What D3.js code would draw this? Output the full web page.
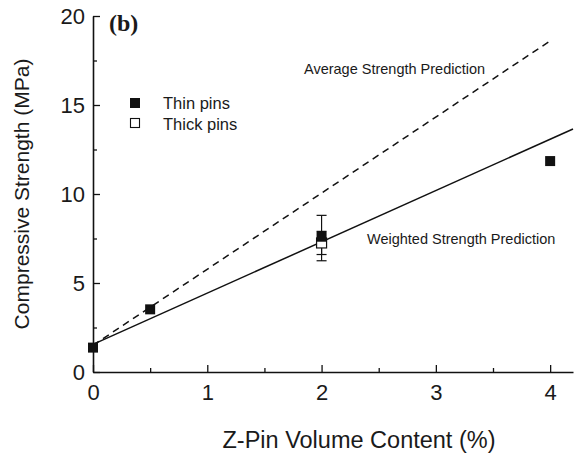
<!DOCTYPE html>
<html>
<head>
<meta charset="utf-8">
<script src="https://cdn.jsdelivr.net/npm/d3@7"></script>
<style>
  body { margin: 0; background: #fff; }
  svg { display: block; }
  text { font-family: "Liberation Sans", Arial, Helvetica, sans-serif; fill: #1a1a1a; }
</style>
</head>
<body>
<svg id="chart" width="578" height="456"></svg>
<script>
// ---- data ----
const thinX = [0, 0.5, 2, 4];
const thinY = [1.37, 3.52, 7.6, 11.85];
const thinErrLow = [null, null, 6.25, null];
const thinErrHigh = [null, null, 8.8, null];
const thickX = [2];
const thickY = [7.25];
const thickErrLow = [6.6];
const thickErrHigh = [7.9];
const weightedLineX = [0, 4.2];
const weightedLineY = [1.55, 13.65];
const averageLineX = [0, 4.0];
const averageLineY = [1.5, 18.6];
const xTicks = [0, 1, 2, 3, 4];
const xMinorTicks = [0.5, 1.5, 2.5, 3.5];
const yTicks = [0, 5, 10, 15, 20];
const yMinorTicks = [2.5, 7.5, 12.5, 17.5];
const legendLabels = ["Thin pins", "Thick pins"];
const xTitle = "Z-Pin Volume Content (%)";
const yTitle = "Compressive Strength (MPa)";
const panelLabel = "(b)";
const avgLabel = "Average Strength Prediction";
const wtdLabel = "Weighted Strength Prediction";

(function () {
// ---- layout ----
const svg = d3.select("#chart");
const mLeft = 93, mRight = 573, mTop = 16, mBottom = 372;
const x = d3.scaleLinear().domain([0, 4.2]).range([mLeft, mRight]);
const y = d3.scaleLinear().domain([0, 20]).range([mBottom, mTop]);
const ink = "#111";

// axes
const gx = svg.append("g").attr("transform", `translate(0,${mBottom})`)
  .call(d3.axisBottom(x).tickValues(xTicks).tickFormat(d3.format("d")).tickSizeInner(-7).tickSizeOuter(0).tickPadding(15));
const gxm = svg.append("g").attr("transform", `translate(0,${mBottom})`)
  .call(d3.axisBottom(x).tickValues(xMinorTicks).tickFormat("").tickSizeInner(-4).tickSizeOuter(0));
const gy = svg.append("g").attr("transform", `translate(${mLeft},0)`)
  .call(d3.axisLeft(y).tickValues(yTicks).tickFormat(d3.format("d")).tickSizeInner(-7).tickSizeOuter(0).tickPadding(8));
const gym = svg.append("g").attr("transform", `translate(${mLeft},0)`)
  .call(d3.axisLeft(y).tickValues(yMinorTicks).tickFormat("").tickSizeInner(-4).tickSizeOuter(0));
[gx, gxm, gy, gym].forEach(g => {
  g.selectAll("path.domain").attr("stroke", ink).attr("stroke-width", 1.6);
  g.selectAll(".tick line").attr("stroke", ink).attr("stroke-width", 1.3);
});
gym.select("path.domain").remove();
gxm.select("path.domain").remove();
gx.selectAll(".tick text").attr("font-size", 22).attr("fill", "#1a1a1a")
  .attr("font-family", "'Liberation Sans', Arial, sans-serif").attr("dy", "0.71em").attr("y", 12);
gy.selectAll(".tick text").attr("font-size", 22).attr("fill", "#1a1a1a")
  .attr("font-family", "'Liberation Sans', Arial, sans-serif");

// axis titles
svg.append("text").attr("x", 359).attr("y", 448).attr("text-anchor", "middle")
  .attr("font-size", 23.5).text(xTitle);
svg.append("text").attr("transform", "translate(29,194) rotate(-90)").attr("text-anchor", "middle")
  .attr("font-size", 21).text(yTitle);

// panel label
svg.append("text").attr("x", 109).attr("y", 31).attr("font-size", 24)
  .attr("font-weight", "bold").style("font-family", "'Liberation Serif', 'Times New Roman', serif").text(panelLabel);

// prediction lines
const line = d3.line().x(d => x(d[0])).y(d => y(d[1]));
svg.append("path").datum(averageLineX.map((v, i) => [v, averageLineY[i]]))
  .attr("d", line).attr("fill", "none").attr("stroke", ink).attr("stroke-width", 1.5)
  .attr("stroke-dasharray", "7,5");
svg.append("path").datum(weightedLineX.map((v, i) => [v, weightedLineY[i]]))
  .attr("d", line).attr("fill", "none").attr("stroke", ink).attr("stroke-width", 1.5);

// annotations
svg.append("text").attr("x", 304).attr("y", 74).attr("font-size", 14.5).text(avgLabel);
svg.append("text").attr("x", 367).attr("y", 244).attr("font-size", 14.5).text(wtdLabel);

// error bars
function errBars(xs, lo, hi) {
  xs.forEach((v, i) => {
    if (lo[i] == null) return;
    const cx = x(v);
    svg.append("line").attr("x1", cx).attr("x2", cx).attr("y1", y(lo[i])).attr("y2", y(hi[i]))
      .attr("stroke", ink).attr("stroke-width", 1.2);
    [lo[i], hi[i]].forEach(t => svg.append("line").attr("x1", cx - 5).attr("x2", cx + 5)
      .attr("y1", y(t)).attr("y2", y(t)).attr("stroke", ink).attr("stroke-width", 1.2));
  });
}
errBars(thinX, thinErrLow, thinErrHigh);
errBars(thickX, thickErrLow, thickErrHigh);

// markers
const ms = 10;
svg.selectAll("rect.thick").data(thickX.map((v, i) => [v, thickY[i]])).join("rect")
  .attr("class", "thick")
  .attr("x", d => x(d[0]) - ms / 2).attr("y", d => y(d[1]) - ms / 2)
  .attr("width", ms).attr("height", ms).attr("fill", "#fff").attr("stroke", ink).attr("stroke-width", 1.2);
svg.selectAll("rect.thin").data(thinX.map((v, i) => [v, thinY[i]])).join("rect")
  .attr("class", "thin")
  .attr("x", d => x(d[0]) - ms / 2).attr("y", d => y(d[1]) - ms / 2)
  .attr("width", ms).attr("height", ms).attr("fill", ink);

// legend
const lg = svg.append("g");
lg.append("rect").attr("x", 130).attr("y", 98).attr("width", 10).attr("height", 10).attr("fill", ink);
lg.append("rect").attr("x", 130.5).attr("y", 118.5).attr("width", 9).attr("height", 9)
  .attr("fill", "#fff").attr("stroke", ink).attr("stroke-width", 1.1);
lg.append("text").attr("x", 163).attr("y", 109).attr("font-size", 16.5).text(legendLabels[0]);
lg.append("text").attr("x", 163).attr("y", 130).attr("font-size", 16.5).text(legendLabels[1]);
})();
</script>
</body>
</html>
